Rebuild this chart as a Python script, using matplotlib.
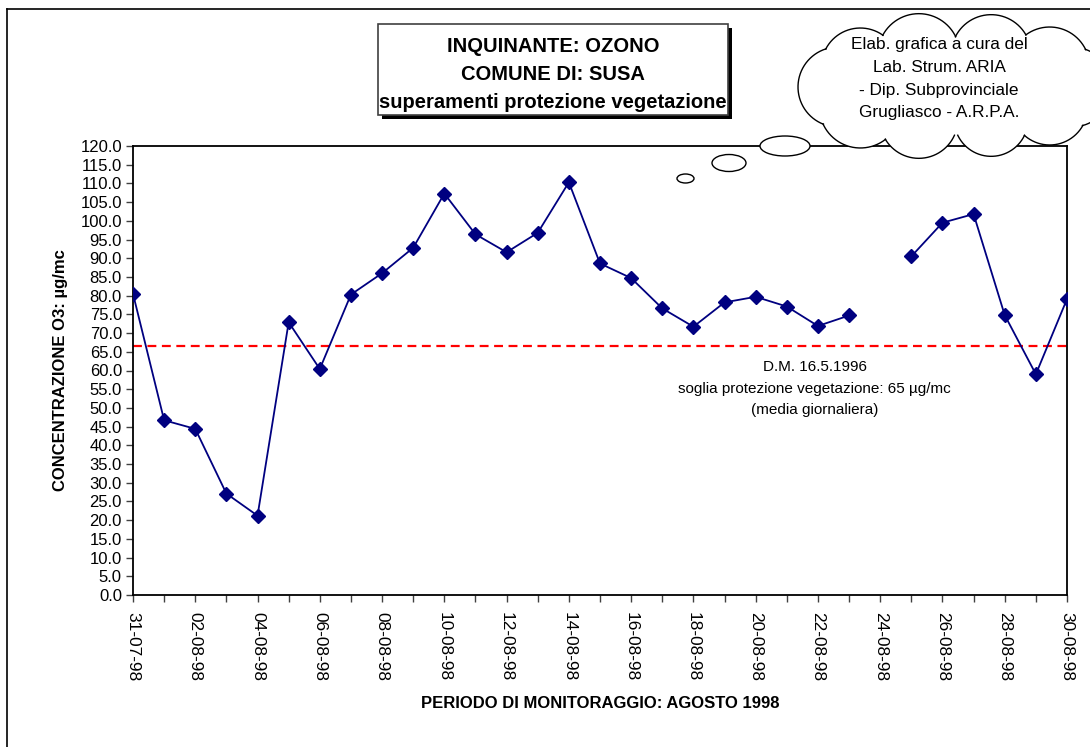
import numpy as np
import pandas as pd
import matplotlib.pyplot as plt
from matplotlib.patches import Rectangle, Ellipse

plt.rcParams['font.family'] = ['Liberation Sans', 'DejaVu Sans']

# ---------------------------------------------------------------------------
# Data: daily mean ozone, Susa, 31-07-98 .. 30-08-98 (24-08 missing)
# ---------------------------------------------------------------------------
days = pd.date_range('1998-07-31', '1998-08-30', freq='D')
date_labels = [d.strftime('%d-%m-%y') for d in days]

ozone = [80.5, 46.7, 44.4, 27.1, 21.2, 72.9, 60.4, 80.3, 86.0, 92.8,
         107.3, 96.4, 91.6, 96.8, 110.3, 88.6, 84.7, 76.6, 71.7, 78.2,
         79.7, 77.1, 71.9, 74.7, np.nan, 90.5, 99.5, 101.8, 74.8, 59.0,
         79.1]

threshold = 66.5
y_ticks = np.arange(0, 120.1, 5)

title_lines = ["INQUINANTE: OZONO", "COMUNE DI: SUSA",
               "superamenti protezione vegetazione"]
cloud_lines = ["Elab. grafica a cura del", "Lab. Strum. ARIA",
               "- Dip. Subprovinciale", "Grugliasco - A.R.P.A."]
note_lines = ["D.M. 16.5.1996",
              "soglia protezione vegetazione: 65 \u00b5g/mc",
              "(media giornaliera)"]

# ---------------------------------------------------------------------------
W, H = 1090, 747
fig = plt.figure(figsize=(W / 100, H / 100), dpi=100)

# main axes, placed in pixel coords
x0, x1, y_top, y_bot = 133, 1067, 146, 595
ax = fig.add_axes([x0 / W, 1 - y_bot / H, (x1 - x0) / W, (y_bot - y_top) / H])

x = np.arange(len(days))
ax.plot(x, ozone, color='#000080', lw=1.3, marker='D', ms=6.8,
        mfc='#000080', mec='#000080', zorder=3)
ax.axhline(threshold, color='#ff0000', lw=1.6, ls=(0, (4, 2.5)), zorder=2)

ax.set_xlim(0, len(days) - 1)
ax.set_ylim(0, 120)
ax.set_yticks(y_ticks)
ax.set_yticklabels([f"{v:.1f}" for v in y_ticks], fontsize=12)
ax.set_xticks(x, minor=True)
ax.set_xticks(x[::2])
ax.set_xticklabels(date_labels[::2], rotation=-90, fontsize=12.4)
ax.tick_params(axis='both', which='both', direction='out', length=5,
               width=1, color='#404040')
ax.tick_params(axis='x', pad=7)
ax.tick_params(axis='y', pad=3)
for s in ax.spines.values():
    s.set_linewidth(1.3)

ax.set_ylabel("CONCENTRAZIONE O3: \u00b5g/mc", fontsize=12,
              fontweight='bold', labelpad=9)
ax.set_xlabel("PERIODO DI MONITORAGGIO: AGOSTO 1998", fontsize=12,
              fontweight='bold', labelpad=11)

for i, line in enumerate(note_lines):
    ax.text(21.9, 60.9 - i * 5.75, line, ha='center', va='center', fontsize=11)

# ---------------------------------------------------------------------------
# overlay in pixel space: frame, title box, cloud
ov = fig.add_axes([0, 0, 1, 1], zorder=5)
ov.set_xlim(0, W)
ov.set_ylim(H, 0)
ov.axis('off')
ov.patch.set_alpha(0)

ov.plot([6.5, W], [8.5, 8.5], color='black', lw=1.2)
ov.plot([6.5, 6.5], [8.5, H], color='black', lw=1.2)

# title box with shadow
ov.add_patch(Rectangle((382, 28), 350, 91, fc='black', ec='none'))
ov.add_patch(Rectangle((378, 24), 350, 91, fc='white', ec='#404040', lw=1.2))
for i, line in enumerate(title_lines):
    ov.text(553, 47 + i * 28, line, ha='center', va='center',
            fontsize=14.5, fontweight='bold')

# cloud: ring of bumps round an elliptic core
ccx, ccy, erx, ery = 955, 87, 117, 34
ang = np.deg2rad(np.arange(0, 360, 36))
rad = [40, 38, 37, 39, 41, 40, 39, 41, 40, 40]
bumps = [(ccx + erx * np.cos(a), ccy + ery * np.sin(a), r) for a, r in zip(ang, rad)]
core = (ccx, ccy, erx + 8, ery + 14)

def inside(px, py, skip):
    m = ((px - core[0]) / core[2]) ** 2 + ((py - core[1]) / core[3]) ** 2 < 1
    for j, (cx, cy, r) in enumerate(bumps):
        if j != skip:
            m |= (px - cx) ** 2 + (py - cy) ** 2 < (r - 0.3) ** 2
    return m

ov.add_patch(Ellipse(core[:2], 2 * core[2], 2 * core[3], fc='white', ec='none'))
t = np.linspace(0, 2 * np.pi, 900)
for j, (cx, cy, r) in enumerate(bumps):
    ov.add_patch(plt.Circle((cx, cy), r, fc='white', ec='none'))
    px, py = cx + r * np.cos(t), cy + r * np.sin(t)
    px = np.where(inside(px, py, j), np.nan, px)
    ov.plot(px, py, color='black', lw=1.0)

for i, line in enumerate(cloud_lines):
    ov.text(939, 45 + i * 22.5, line, ha='center', va='center', fontsize=12.4)

# thought bubbles
for cx, cy, w, h in [(785, 146, 50, 20), (729, 163, 34, 17), (685.5, 178.5, 17, 9)]:
    ov.add_patch(Ellipse((cx, cy), w, h, fc='white', ec='black', lw=1.0))

fig.savefig('out.png', dpi=100)
